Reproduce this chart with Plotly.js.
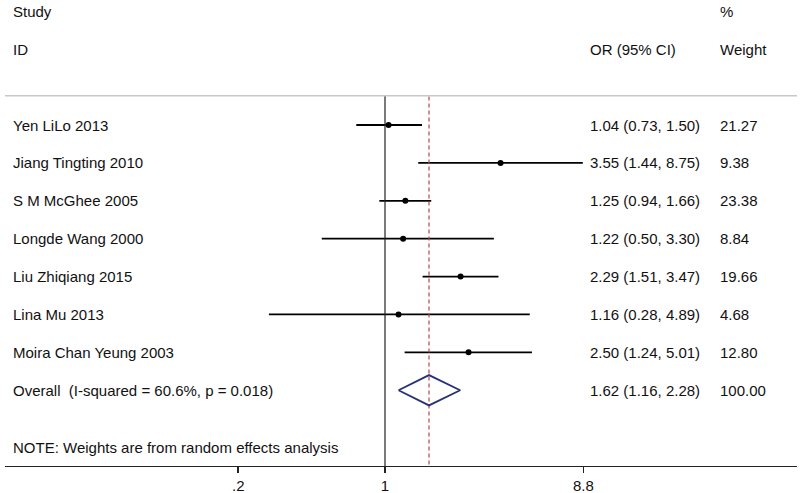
<!DOCTYPE html>
<html>
<head>
<meta charset="utf-8">
<script src="https://cdn.plot.ly/plotly-3.0.1.min.js"></script>
<style>html,body{margin:0;padding:0;background:#fff}#chart{width:800px;height:493px}</style>
</head>
<body>
<div id="chart"></div>
<script>
const studies = ["Yen LiLo 2013","Jiang Tingting 2010","S M McGhee 2005","Longde Wang 2000","Liu Zhiqiang 2015","Lina Mu 2013","Moira Chan Yeung 2003"];
const orVals = [1.04, 3.55, 1.25, 1.22, 2.29, 1.16, 2.50];
const ciLow = [0.73, 1.44, 0.94, 0.50, 1.51, 0.28, 1.24];
const ciHigh = [1.50, 8.75, 1.66, 3.30, 3.47, 4.89, 5.01];
const weights = ["21.27","9.38","23.38","8.84","19.66","4.68","12.80"];
const overallLabel = "Overall  (I-squared = 60.6%, p = 0.018)";
const overallOR = 1.62, overallLow = 1.16, overallHigh = 2.28;
const overallWeight = "100.00";
const tickVals = [0.2, 1, 8.8];
const tickText = [".2", "1", "8.8"];
const noteText = "NOTE: Weights are from random effects analysis";

const FONT = "Arial, 'Liberation Sans', sans-serif";
const FS = 15;
const fmt = v => v.toFixed(2);

const traces = [];
// CI lines
for (let i = 0; i < studies.length; i++) {
  traces.push({x:[ciLow[i], ciHigh[i]], y:[i, i], mode:'lines', line:{color:'#000', width:1.8}, hoverinfo:'skip', showlegend:false});
}
// points
traces.push({x: orVals, y: studies.map((s,i)=>i), mode:'markers', marker:{color:'#000', size:6}, showlegend:false, hoverinfo:'skip'});
const oy = studies.length;
// null line
traces.push({x:[1,1], y:[-0.77, 9], mode:'lines', line:{color:'#222', width:1.2}, showlegend:false, hoverinfo:'skip'});
// overall dashed line
traces.push({x:[overallOR, overallOR], y:[-0.75, 9], mode:'lines', line:{color:'#b5474b', width:1.2, dash:'4px,3px'}, showlegend:false, hoverinfo:'skip'});
// diamond
traces.push({x:[overallLow, overallOR, overallHigh, overallOR, overallLow], y:[oy, oy-0.4, oy, oy+0.4, oy], mode:'lines', line:{color:'#27307a', width:1.8}, showlegend:false, hoverinfo:'skip'});

const toPaper = px => (px - 3 - 5) / 792;
const ann = [];
function addText(txt, px, y) {
  ann.push({text: txt, xref:'paper', yref:'y', x: toPaper(px), y: y, xanchor:'left', yanchor:'middle', showarrow:false, font:{family:FONT, size:FS, color:'#111'}});
}
addText("Study", 14, -3);
addText("ID", 14, -2);
addText("%", 721, -3);
addText("OR (95% CI)", 591, -2);
addText("Weight", 721, -2);
studies.forEach((s, i) => {
  addText(s, 14, i);
  addText(fmt(orVals[i]) + " (" + fmt(ciLow[i]) + ", " + fmt(ciHigh[i]) + ")", 591, i);
  addText(weights[i], 721, i);
});
addText(overallLabel, 14, oy);
addText(fmt(overallOR) + " (" + fmt(overallLow) + ", " + fmt(overallHigh) + ")", 591, oy);
addText(overallWeight, 721, oy);
addText(noteText, 14, 8.5);

const layout = {
  width: 800, height: 493,
  margin: {l:5, r:3, t:0, b:27},
  paper_bgcolor:'#fff', plot_bgcolor:'#fff',
  showlegend:false,
  xaxis: {type:'log', range:[-1.8095, 1.9619], tickvals: tickVals, ticktext: tickText, ticks:'outside', ticklen:6, tickwidth:1.5, tickcolor:'#222',
          showline:true, linecolor:'#222', linewidth:1.2, showgrid:false, zeroline:false, tickfont:{family:FONT, size:FS, color:'#111'}, fixedrange:true},
  yaxis: {range:[9.0, -3.3], visible:false, showgrid:false, zeroline:false, fixedrange:true},
  shapes: [{type:'line', xref:'paper', yref:'y', x0:0, x1:1, y0:-0.77, y1:-0.77, line:{color:'#c8c8c8', width:1.5}}],
  annotations: ann
};
Plotly.newPlot('chart', traces, layout, {displayModeBar:false, staticPlot:true});
</script>
</body>
</html>
